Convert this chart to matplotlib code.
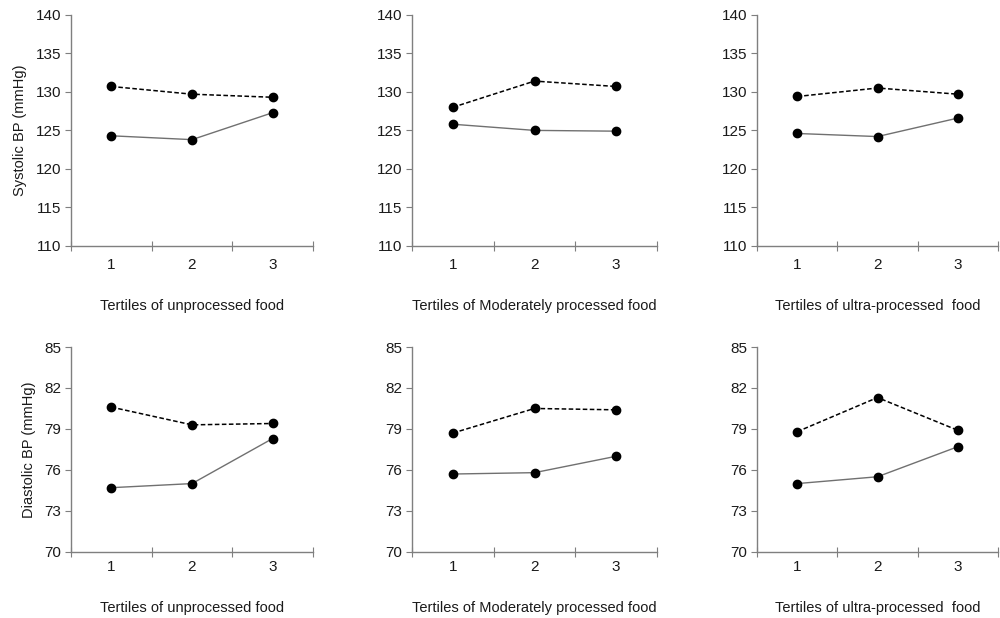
import matplotlib
matplotlib.use("Agg")
import matplotlib.pyplot as plt

plt.rcParams['font.family'] = ['Liberation Sans', 'DejaVu Sans']

tertiles = [1, 2, 3]
food_labels = ["Tertiles of unprocessed food",
               "Tertiles of Moderately processed food",
               "Tertiles of ultra-processed  food"]

# systolic BP, dashed and solid series per food group
sys_dashed = [[130.7, 129.7, 129.3], [128.0, 131.4, 130.7], [129.4, 130.5, 129.7]]
sys_solid = [[124.3, 123.8, 127.3], [125.8, 125.0, 124.9], [124.6, 124.2, 126.6]]
sys_ticks = [110, 115, 120, 125, 130, 135, 140]

# diastolic BP
dia_dashed = [[80.6, 79.3, 79.4], [78.7, 80.5, 80.4], [78.8, 81.3, 78.9]]
dia_solid = [[74.7, 75.0, 78.3], [75.7, 75.8, 77.0], [75.0, 75.5, 77.7]]
dia_ticks = [70, 73, 76, 79, 82, 85]

fig = plt.figure(figsize=(10, 6.18), dpi=100)

lefts = [0.071, 0.412, 0.757]
widths = [0.242, 0.245, 0.241]
rows = [(0.602, 0.374, sys_dashed, sys_solid, sys_ticks, "Systolic BP (mmHg)", 9, 19),
        (0.107, 0.3315, dia_dashed, dia_solid, dia_ticks, "Diastolic BP (mmHg)", 6, 19)]

axis_col = "#7f7f7f"
txt_col = "#1a1a1a"
fs = 11

for bottom, height, dashed, solid, yticks, ylab, tpad, lpad in rows:
    for j in range(3):
        ax = fig.add_axes([lefts[j], bottom, widths[j], height])
        ax.plot(tertiles, solid[j], color="#707070", lw=1.0, marker="o",
                markersize=6, markerfacecolor="black", markeredgecolor="black",
                clip_on=False)
        ax.plot(tertiles, dashed[j], color="black", lw=1.1, ls=(0, (3, 1.6)),
                marker="o", markersize=6, markerfacecolor="black",
                markeredgecolor="black", clip_on=False)
        ax.set_xlim(0.5, 3.5)
        ax.set_ylim(yticks[0], yticks[-1])
        ax.set_yticks(yticks)
        ax.set_xticks([0.5, 1.5, 2.5, 3.5])
        ax.set_xticklabels([])
        ax.set_xticks(tertiles, minor=True)
        ax.set_xticklabels([str(t) for t in tertiles], minor=True)
        ax.tick_params(axis="x", which="minor", length=0, pad=tpad,
                       labelsize=fs, labelcolor=txt_col)
        ax.tick_params(axis="x", which="major", direction="inout", length=7,
                       color=axis_col)
        ax.tick_params(axis="y", direction="out", length=4, color=axis_col,
                       labelsize=fs, labelcolor=txt_col, pad=3)
        for s in ["top", "right"]:
            ax.spines[s].set_visible(False)
        for s in ["left", "bottom"]:
            ax.spines[s].set_color(axis_col)
            ax.spines[s].set_linewidth(1.0)
        ax.set_xlabel(food_labels[j], fontsize=10.5, color=txt_col, labelpad=lpad)
        if j == 0:
            ax.set_ylabel(ylab, fontsize=10.5, color=txt_col, labelpad=6)

fig.savefig("out.png", dpi=100)
